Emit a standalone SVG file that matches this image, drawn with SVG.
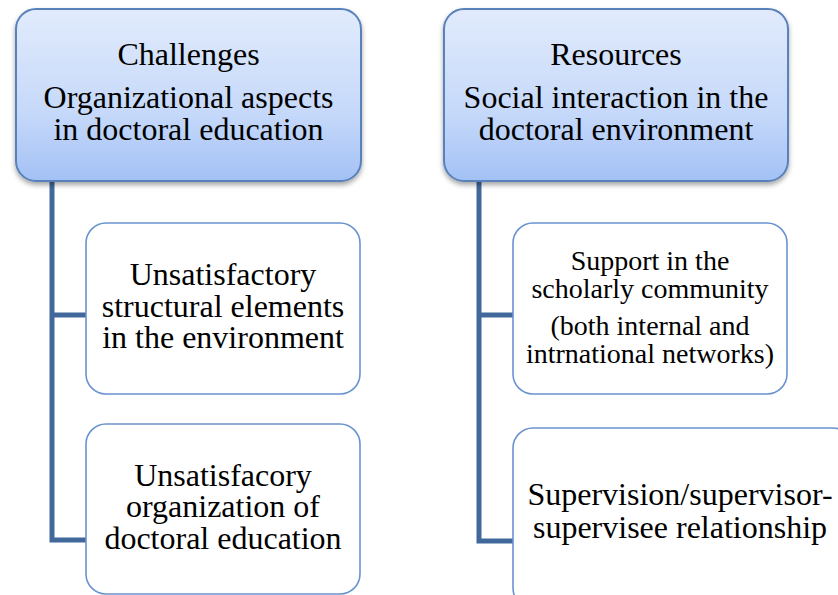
<svg xmlns="http://www.w3.org/2000/svg" width="838" height="595" viewBox="0 0 838 595">
<style>
  .big { font-family: "Liberation Serif", "Times New Roman", serif; font-size: 32px; fill: #000; text-anchor: middle; }
  .small { font-family: "Liberation Serif", "Times New Roman", serif; font-size: 28px; fill: #000; text-anchor: middle; }
  .head { fill: url(#hg); stroke: #5a82ba; stroke-width: 2; filter: url(#sh); }
  .child { fill: #fff; stroke: #6a93cf; stroke-width: 1.6; }
  .conn { fill: none; stroke: #41689b; stroke-width: 5; }
</style>
<defs>
  <linearGradient id="hg" x1="0" y1="0" x2="0" y2="1">
    <stop offset="0" stop-color="#e1ebfc"/>
    <stop offset="0.6" stop-color="#c6d9fa"/>
    <stop offset="1" stop-color="#a3c1f5"/>
  </linearGradient>
  <filter id="sh" x="-10%" y="-10%" width="120%" height="125%">
    <feDropShadow dx="0" dy="3" stdDeviation="2.5" flood-color="#000" flood-opacity="0.35"/>
  </filter>
</defs>
<rect width="838" height="595" fill="#fff"/>
<g id="connectors">
  <path class="conn" d="M52,181 V540 H87 M52,315 H87"/>
  <path class="conn" d="M479,181 V541 H514 M479,315 H514"/>
</g>
<g id="challenges">
  <rect class="head" x="16" y="9" width="345" height="172" rx="20"/>
  <text class="big" x="188.5" y="65">Challenges</text>
  <text class="big" x="188.5" y="108">Organizational aspects</text>
  <text class="big" x="188.5" y="140">in doctoral education</text>
</g>
<g id="resources">
  <rect class="head" x="444" y="9" width="344" height="172" rx="20"/>
  <text class="big" x="616" y="65">Resources</text>
  <text class="big" x="616" y="108">Social interaction in the</text>
  <text class="big" x="616" y="140">doctoral environment</text>
</g>
<g id="structural">
  <rect class="child" x="86" y="223" width="274" height="171" rx="20"/>
  <text class="big" x="223" y="285">Unsatisfactory</text>
  <text class="big" x="223" y="317">structural elements</text>
  <text class="big" x="223" y="348">in the environment</text>
</g>
<g id="organization">
  <rect class="child" x="86" y="424" width="274" height="170" rx="20"/>
  <text class="big" x="223" y="486">Unsatisfacory</text>
  <text class="big" x="223" y="517">organization of</text>
  <text class="big" x="223" y="549">doctoral education</text>
</g>
<g id="support">
  <rect class="child" x="513" y="223" width="274" height="171" rx="20"/>
  <text class="small" x="650" y="270">Support in the</text>
  <text class="small" x="650" y="298">scholarly community</text>
  <text class="small" x="650" y="335">(both internal and</text>
  <text class="small" x="650" y="363">intrnational networks)</text>
</g>
<g id="supervision">
  <rect class="child" x="513" y="428" width="340" height="180" rx="20"/>
  <text class="big" x="680" y="505">Supervision/supervisor-</text>
  <text class="big" x="680" y="538">supervisee relationship</text>
</g>
</svg>
